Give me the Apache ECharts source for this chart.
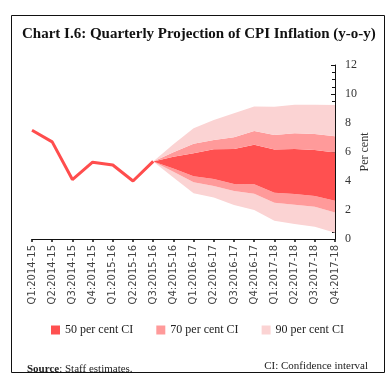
<!DOCTYPE html>
<html>
<head>
<meta charset="utf-8">
<script src="https://cdn.jsdelivr.net/npm/echarts@6/dist/echarts.min.js"></script>
<style>
html,body{margin:0;padding:0;background:#fff;}
#chart{width:392px;height:384px;}
</style>
</head>
<body>
<div id="chart"></div>
<script>
// ---- data ----
const categories = ['Q1:2014-15','Q2:2014-15','Q3:2014-15','Q4:2014-15','Q1:2015-16','Q2:2015-16','Q3:2015-16','Q4:2015-16','Q1:2016-17','Q2:2016-17','Q3:2016-17','Q4:2016-17','Q1:2017-18','Q2:2017-18','Q3:2017-18','Q4:2017-18'];
const actual = [7.5, 6.7, 4.1, 5.3, 5.1, 4.0, 5.35];
// projection bands start at Q3:2015-16
const fanStart = 'Q3:2015-16';
const lo90 = [5.35, 4.25, 3.15, 2.87, 2.34, 2.00, 1.26, 1.03, 0.85, 0.43];
const lo70 = [5.35, 4.64, 3.92, 3.66, 3.31, 3.12, 2.50, 2.37, 2.23, 1.82];
const lo50 = [5.35, 4.87, 4.32, 4.14, 3.79, 3.77, 3.19, 3.10, 2.97, 2.63];
const hi50 = [5.35, 5.68, 5.92, 6.19, 6.20, 6.50, 6.18, 6.20, 6.14, 5.97];
const hi70 = [5.35, 5.98, 6.57, 6.83, 7.01, 7.45, 7.17, 7.29, 7.24, 7.08];
const hi90 = [5.35, 6.53, 7.63, 8.20, 8.67, 9.14, 9.12, 9.26, 9.26, 9.24];
const yTicks = [0, 2, 4, 6, 8, 10, 12];

// ---- build ----
const c50 = '#ff5050', c70 = '#ff9a9a', c90 = '#fbd3d3', lineColor = '#ff4d4d';
const off = categories.indexOf(fanStart);
function pad(arr){ const out = categories.map(()=> '-'); arr.forEach((v,i)=>{ out[off+i] = v; }); return out; }
function diff(a,b){ return pad(a.map((v,i)=> +(v - b[i]).toFixed(3))); }
function band(name, data, color){
  return { name, type:'line', stack:'fan', data, symbol:'none', showSymbol:false,
    lineStyle:{width:0, color}, itemStyle:{color}, areaStyle:{color, opacity:1}, z:2, silent:true };
}
const chart = echarts.init(document.getElementById('chart'), null, {renderer:'canvas'});
const serif = 'Liberation Serif';
chart.setOption({
  animation:false,
  backgroundColor:'#fff',
  title:[{
    text:'Chart I.6: Quarterly Projection of CPI Inflation (y-o-y)',
    left:17, top:22,
    textStyle:{fontFamily:serif, fontWeight:'bold', fontSize:15, color:'#111'}
  },{
    text:'{b|Source}: Staff estimates.',
    left:22, top:359,
    textStyle:{fontFamily:serif, fontSize:11, fontWeight:'normal', color:'#222', rich:{b:{fontFamily:serif, fontSize:11, fontWeight:'bold', color:'#222'}}}
  },{
    text:'CI: Confidence interval',
    right:19, top:356,
    textStyle:{fontFamily:serif, fontSize:11, fontWeight:'normal', color:'#222'}
  }],
  graphic:[
    {type:'rect', shape:{x:11.5, y:15.5, width:373, height:357}, style:{fill:null, stroke:'#111', lineWidth:1}, z:-1},
    {type:'text', x:365, y:152, rotation:Math.PI/2, style:{text:'Per cent', fill:'#333', font:'12px "Liberation Serif"', align:'center', verticalAlign:'middle'}}
  ],
  legend:{
    left:51, top:324, padding:0, itemWidth:9, itemHeight:9, itemGap:23,
    textStyle:{fontFamily:serif, fontSize:12, color:'#222'},
    data:[
      {name:'50 per cent CI', icon:'rect', itemStyle:{color:c50}},
      {name:'70 per cent CI', icon:'rect', itemStyle:{color:c70}},
      {name:'90 per cent CI', icon:'rect', itemStyle:{color:c90}}
    ],
    selectedMode:false
  },
  grid:{left:32, right:57, top:65, bottom:145},
  xAxis:{
    type:'category', data:categories, boundaryGap:false,
    axisLine:{lineStyle:{color:'#111', width:1}},
    axisTick:{show:true, length:3, alignWithLabel:true, lineStyle:{color:'#111', width:1.5}},
    axisLabel:{rotate:90, interval:0, margin:6, fontFamily:'DejaVu Sans', fontSize:10, color:'#444'},
    splitLine:{show:false}
  },
  yAxis:{
    type:'value', position:'right', min:0, max:12, interval:2,
    axisLine:{show:true, lineStyle:{color:'#111', width:1}},
    axisTick:{show:true, inside:true, length:4, lineStyle:{color:'#111'}},
    minorTick:{show:true, splitNumber:4, length:3, lineStyle:{color:'#111'}},
    axisLabel:{margin:10, fontFamily:serif, fontSize:12, color:'#333',
      formatter:(v)=> yTicks.includes(v) ? String(v) : ''},
    splitLine:{show:false}
  },
  series:[
    { name:'base', type:'line', stack:'fan', data:pad(lo90), symbol:'none', lineStyle:{width:0}, areaStyle:{opacity:0}, silent:true },
    band('90 per cent CI', diff(lo70, lo90), c90),
    band('70 per cent CI', diff(lo50, lo70), c70),
    band('50 per cent CI', diff(hi50, lo50), c50),
    band('70 per cent CI', diff(hi70, hi50), c70),
    band('90 per cent CI', diff(hi90, hi70), c90),
    { name:'actual', type:'line', data:actual, symbol:'none', showSymbol:false,
      lineStyle:{color:lineColor, width:3}, z:5, silent:true }
  ]
});
</script>
</body>
</html>
